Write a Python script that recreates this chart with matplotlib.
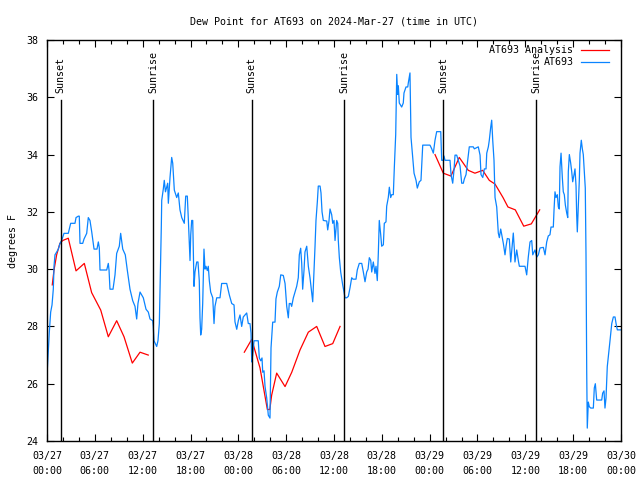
import matplotlib
matplotlib.use('Agg')
import matplotlib.pyplot as plt
from matplotlib.ticker import MultipleLocator, FixedLocator

# station obs: (hours since 2024-03-27 00:00 UTC, dew point F)
obs_points = [
    (0.0, 26.0), (0.04, 26.5), (0.29, 27.8), (0.46, 28.5), (0.63, 28.75), (0.79, 29.3), (0.88, 30.1), (1.0, 30.5),
    (1.22, 30.6), (1.42, 30.7), (1.63, 30.9), (1.84, 31.0), (2.13, 31.25), (2.67, 31.25), (2.97, 31.6), (3.51, 31.6),
    (3.64, 31.8), (3.93, 31.85), (4.05, 31.85), (4.14, 30.9), (4.48, 30.9), (4.64, 31.05), (4.98, 31.25), (5.18, 31.8),
    (5.39, 31.7), (5.61, 31.3), (5.9, 30.7), (6.27, 30.7), (6.44, 30.95), (6.56, 30.75), (6.65, 29.97), (7.49, 29.97),
    (7.69, 30.2), (7.78, 29.97), (7.9, 29.3), (8.28, 29.3), (8.53, 29.8), (8.74, 30.55), (9.07, 30.8), (9.24, 31.25),
    (9.5, 30.7), (9.82, 30.5), (10.07, 29.97), (10.41, 29.3), (10.75, 28.9), (11.04, 28.7), (11.25, 28.26), (11.41, 28.8),
    (11.67, 29.2), (12.08, 29.0), (12.42, 28.6), (12.71, 28.5), (12.92, 28.26), (13.26, 28.2), (13.33, 28.0),
    (13.42, 27.5), (13.76, 27.3), (13.92, 27.5), (14.09, 28.1), (14.26, 30.3), (14.34, 31.5), (14.39, 32.4), (14.59, 32.8),
    (14.71, 33.1), (14.86, 32.7), (15.14, 33.0), (15.22, 32.3), (15.43, 33.2), (15.64, 33.9), (15.77, 33.7), (15.97, 32.76),
    (16.27, 32.5), (16.47, 32.66), (16.68, 32.07), (16.9, 31.8), (17.22, 31.6), (17.4, 32.55), (17.6, 32.55), (17.72, 31.8),
    (17.94, 30.3), (18.03, 31.2), (18.15, 31.7), (18.28, 31.7), (18.44, 29.4), (18.56, 29.9), (18.78, 30.25), (18.94, 30.25),
    (19.1, 29.6), (19.19, 28.3), (19.28, 27.7), (19.4, 27.9), (19.53, 28.8), (19.69, 30.7), (19.82, 30.0), (19.94, 30.1),
    (20.11, 29.95), (20.23, 30.1), (20.36, 29.6), (20.53, 29.2), (20.79, 29.0), (20.95, 28.1), (21.07, 28.7), (21.29, 29.0),
    (21.7, 29.0), (21.91, 29.5), (22.54, 29.5), (22.87, 29.1), (23.17, 28.8), (23.46, 28.75), (23.58, 28.16), (23.8, 27.9),
    (24.0, 28.2), (24.21, 28.4), (24.42, 28.0), (24.62, 28.33), (24.84, 28.4), (25.05, 28.47), (25.25, 28.1), (25.46, 28.1),
    (25.59, 27.77), (25.68, 26.76),
    (25.8, 27.0), (25.97, 27.5), (26.5, 27.5), (26.63, 26.9), (26.81, 26.8), (26.97, 26.9), (27.06, 26.4), (27.22, 26.45),
    (27.35, 25.9), (27.56, 25.5), (27.76, 24.9), (27.97, 24.8), (28.1, 27.25), (28.31, 28.15), (28.6, 28.15), (28.72, 28.96),
    (28.89, 29.2), (29.14, 29.4), (29.32, 29.8), (29.64, 29.78), (29.86, 29.5), (30.07, 28.7), (30.27, 28.3), (30.39, 28.8),
    (30.57, 28.8), (30.69, 28.7), (30.9, 29.0), (31.11, 29.2), (31.32, 29.4), (31.52, 29.7), (31.65, 30.5), (31.82, 30.73),
    (31.95, 30.2), (32.07, 29.3), (32.24, 29.97), (32.36, 30.6), (32.58, 30.8), (32.78, 30.1), (32.99, 29.7), (33.2, 29.2),
    (33.33, 28.86), (33.49, 29.9), (33.62, 30.8), (33.74, 31.7), (33.91, 32.35), (34.03, 32.9), (34.25, 32.9), (34.37, 32.66),
    (34.5, 32.0), (34.66, 31.7), (35.09, 31.68), (35.21, 31.37), (35.37, 31.68), (35.5, 32.1), (35.71, 31.9), (35.84, 31.6),
    (36.0, 31.7), (36.13, 31.0), (36.25, 31.4), (36.34, 31.7), (36.47, 31.6), (36.54, 31.0), (36.67, 30.4), (36.84, 29.9),
    (37.09, 29.45), (37.26, 29.2), (37.38, 29.0), (37.59, 29.0), (37.8, 29.05), (38.01, 29.35),
    (38.22, 29.7), (38.38, 29.65), (38.76, 29.65), (38.92, 29.97), (39.17, 30.2), (39.48, 30.2), (39.68, 29.9), (39.89, 29.56),
    (40.1, 29.9), (40.27, 30.0), (40.43, 30.4), (40.61, 30.3), (40.73, 29.9), (40.93, 30.25), (41.14, 29.85), (41.27, 30.1),
    (41.43, 29.6), (41.56, 30.55), (41.68, 31.7), (41.86, 31.2), (41.98, 30.8), (42.19, 30.85), (42.31, 31.6), (42.52, 31.65),
    (42.61, 32.2), (42.81, 32.5), (42.94, 32.86), (43.11, 32.5), (43.24, 32.6), (43.44, 32.6), (43.57, 33.57), (43.74, 34.7),
    (43.87, 36.8), (43.99, 36.1), (44.07, 36.4), (44.19, 35.8), (44.49, 35.66), (44.69, 35.8), (44.78, 36.15), (45.03, 36.36),
    (45.25, 36.36), (45.32, 36.5), (45.53, 36.85), (45.66, 34.6), (45.87, 33.9), (46.04, 33.35), (46.29, 33.1), (46.45, 32.83),
    (46.7, 33.05), (46.91, 33.1), (47.13, 34.33), (47.42, 34.33), (48.04, 34.33), (48.26, 34.2), (48.46, 34.05), (48.67, 34.5),
    (48.88, 34.8), (49.39, 34.8), (49.51, 33.8), (49.71, 33.8), (49.8, 33.95), (49.92, 33.8), (50.55, 33.8), (50.68, 33.3),
    (50.89, 33.0), (51.05, 33.45), (51.18, 33.98), (51.39, 33.98), (51.59, 33.8), (51.81, 33.6), (52.02, 33.0), (52.22, 33.0),
    (52.35, 33.15), (52.56, 33.3), (52.77, 33.8), (52.97, 34.27), (53.47, 34.27), (53.6, 34.2), (54.1, 34.27), (54.32, 33.98),
    (54.44, 33.3), (54.66, 33.2), (54.86, 33.5), (55.07, 33.5),
    (55.16, 34.05), (55.36, 34.27), (55.48, 34.5), (55.66, 34.96), (55.78, 35.2), (55.91, 34.5), (56.07, 33.8), (56.2, 32.5),
    (56.41, 32.17), (56.61, 31.26), (56.74, 31.1), (56.91, 31.4), (57.04, 31.2), (57.24, 30.9), (57.45, 30.5), (57.58, 30.8),
    (57.74, 31.07), (57.99, 31.05), (58.17, 30.25), (58.37, 30.9), (58.49, 31.26), (58.62, 30.7), (58.7, 30.25), (58.92, 30.67),
    (59.12, 30.3), (59.25, 30.1), (59.96, 30.1), (60.17, 29.8), (60.37, 30.42), (60.59, 30.95), (60.8, 31.0), (60.93, 30.5),
    (61.09, 30.6), (61.21, 30.67), (61.43, 30.42), (61.63, 30.5), (61.84, 30.74), (62.26, 30.76), (62.47, 30.5), (62.68, 30.95),
    (62.88, 31.16), (63.09, 31.2), (63.22, 31.47), (63.51, 31.47), (63.6, 32.07), (63.72, 32.7), (63.85, 32.5), (64.01, 32.6),
    (64.14, 32.17), (64.26, 32.1), (64.35, 33.57), (64.48, 34.05), (64.64, 33.2), (64.76, 32.7), (64.89, 32.6), (65.02, 32.24),
    (65.19, 31.96), (65.32, 31.8), (65.39, 33.4), (65.52, 34.0), (65.69, 33.7), (65.82, 33.4), (65.94, 33.05), (66.11, 33.3),
    (66.23, 33.5), (66.36, 32.9), (66.44, 31.9), (66.52, 31.3), (66.64, 32.2), (66.77, 33.1), (66.86, 34.05), (67.02, 34.5),
    (67.15, 34.2), (67.27, 34.0), (67.4, 33.4), (67.52, 32.83), (67.61, 30.5), (67.7, 26.4), (67.77, 24.45), (67.9, 25.36),
    (68.02, 25.2), (68.2, 25.15), (68.53, 25.15), (68.65, 25.85), (68.78, 26.0), (68.95, 25.43), (69.58, 25.43), (69.7, 25.67),
    (69.87, 25.75), (69.99, 25.15), (70.12, 25.5), (70.28, 26.6), (70.46, 27.07), (70.62, 27.5), (70.84, 28.1), (71.04, 28.33),
    (71.25, 28.33), (71.38, 28.1), (71.54, 27.88), (72.0, 27.88),
]
obs_hours = [p[0] for p in obs_points]
obs_dewpt = [p[1] for p in obs_points]

# analysis, three separate runs
ana1_hours = [0.66, 0.88, 1.21, 1.62, 1.97, 2.67, 3.64, 4.68, 5.6, 6.74, 7.69, 8.74, 9.66, 10.7, 11.67, 12.7]
ana1_dewpt = [29.45, 29.97, 30.5, 30.9, 31.0, 31.08, 29.94, 30.2, 29.18, 28.57, 27.64, 28.2, 27.64, 26.72, 27.1, 27.0]
ana2_hours = [24.75, 25.68, 26.72, 27.64, 27.95, 28.18, 28.81, 29.86, 30.7, 31.74, 32.78, 33.83, 34.87, 35.84, 36.76]
ana2_dewpt = [27.1, 27.55, 26.55, 25.1, 25.1, 25.6, 26.37, 25.9, 26.4, 27.18, 27.8, 28.0, 27.3, 27.4, 28.0]
ana3_hours = [48.67, 49.71, 50.67, 51.71, 52.84, 53.68, 54.65, 55.48, 56.2, 57.2, 57.82, 58.74, 59.8, 60.75, 61.8]
ana3_dewpt = [34.0, 33.35, 33.25, 33.9, 33.45, 33.35, 33.45, 33.1, 32.97, 32.5, 32.17, 32.07, 31.5, 31.58, 32.07]

sun_hours = [1.72, 13.33, 25.68, 37.29, 49.71, 61.38]
sun_labels = ['Sunset', 'Sunrise', 'Sunset', 'Sunrise', 'Sunset', 'Sunrise']

tick_hours = list(range(0, 73, 6))
tick_labels = ['03/27\n00:00', '03/27\n06:00', '03/27\n12:00', '03/27\n18:00',
               '03/28\n00:00', '03/28\n06:00', '03/28\n12:00', '03/28\n18:00',
               '03/29\n00:00', '03/29\n06:00', '03/29\n12:00', '03/29\n18:00', '03/30\n00:00']

RED = '#ff0000'
BLUE = '#0a84ff'

plt.rcParams['font.family'] = ['DejaVu Sans Mono']
plt.rcParams['font.size'] = 7.2

fig = plt.figure(figsize=(6.4, 4.8), dpi=100)
ax = fig.add_axes([47 / 640, 39 / 480, 574 / 640, 401 / 480])

ax.plot(ana1_hours, ana1_dewpt, color=RED, lw=0.9)
ax.plot(ana2_hours, ana2_dewpt, color=RED, lw=0.9)
ax.plot(ana3_hours, ana3_dewpt, color=RED, lw=0.9)
ax.plot(obs_hours, obs_dewpt, color=BLUE, lw=0.9)

for h, lab in zip(sun_hours, sun_labels):
    ax.plot([h, h], [24, 35.9], color='black', lw=1.0)
    ax.text(h, 36.15, lab, rotation=90, ha='center', va='bottom')

ax.set_xlim(0, 72)
ax.set_ylim(24, 38)
ax.xaxis.set_major_locator(FixedLocator(tick_hours))
ax.set_xticklabels(tick_labels, linespacing=1.6)
ax.xaxis.set_minor_locator(MultipleLocator(2))
ax.yaxis.set_major_locator(MultipleLocator(2))
ax.tick_params(which='both', direction='in', top=True, right=True, color='black')
ax.tick_params(which='major', length=5, width=0.8)
ax.tick_params(which='minor', length=3, width=0.8)
ax.tick_params(axis='x', pad=7)
ax.tick_params(axis='y', pad=6)
for s in ax.spines.values():
    s.set_linewidth(1.0)

ax.set_ylabel('degrees F', labelpad=6)
ax.set_title('Dew Point for AT693 on 2024-Mar-27 (time in UTC)', fontsize=7.2, pad=11)

# gnuplot-style key: text on the left, sample line on the right
key_entries = [('AT693 Analysis', RED), ('AT693', BLUE)]
for i, (name, col) in enumerate(key_entries):
    yk = 0.9743 - i * 0.0299
    ax.text(0.917, yk, name, transform=ax.transAxes, ha='right', va='center')
    ax.plot([0.930, 0.9796], [yk, yk], transform=ax.transAxes, color=col, lw=0.9, clip_on=False)

fig.savefig('out.png', dpi=100)
